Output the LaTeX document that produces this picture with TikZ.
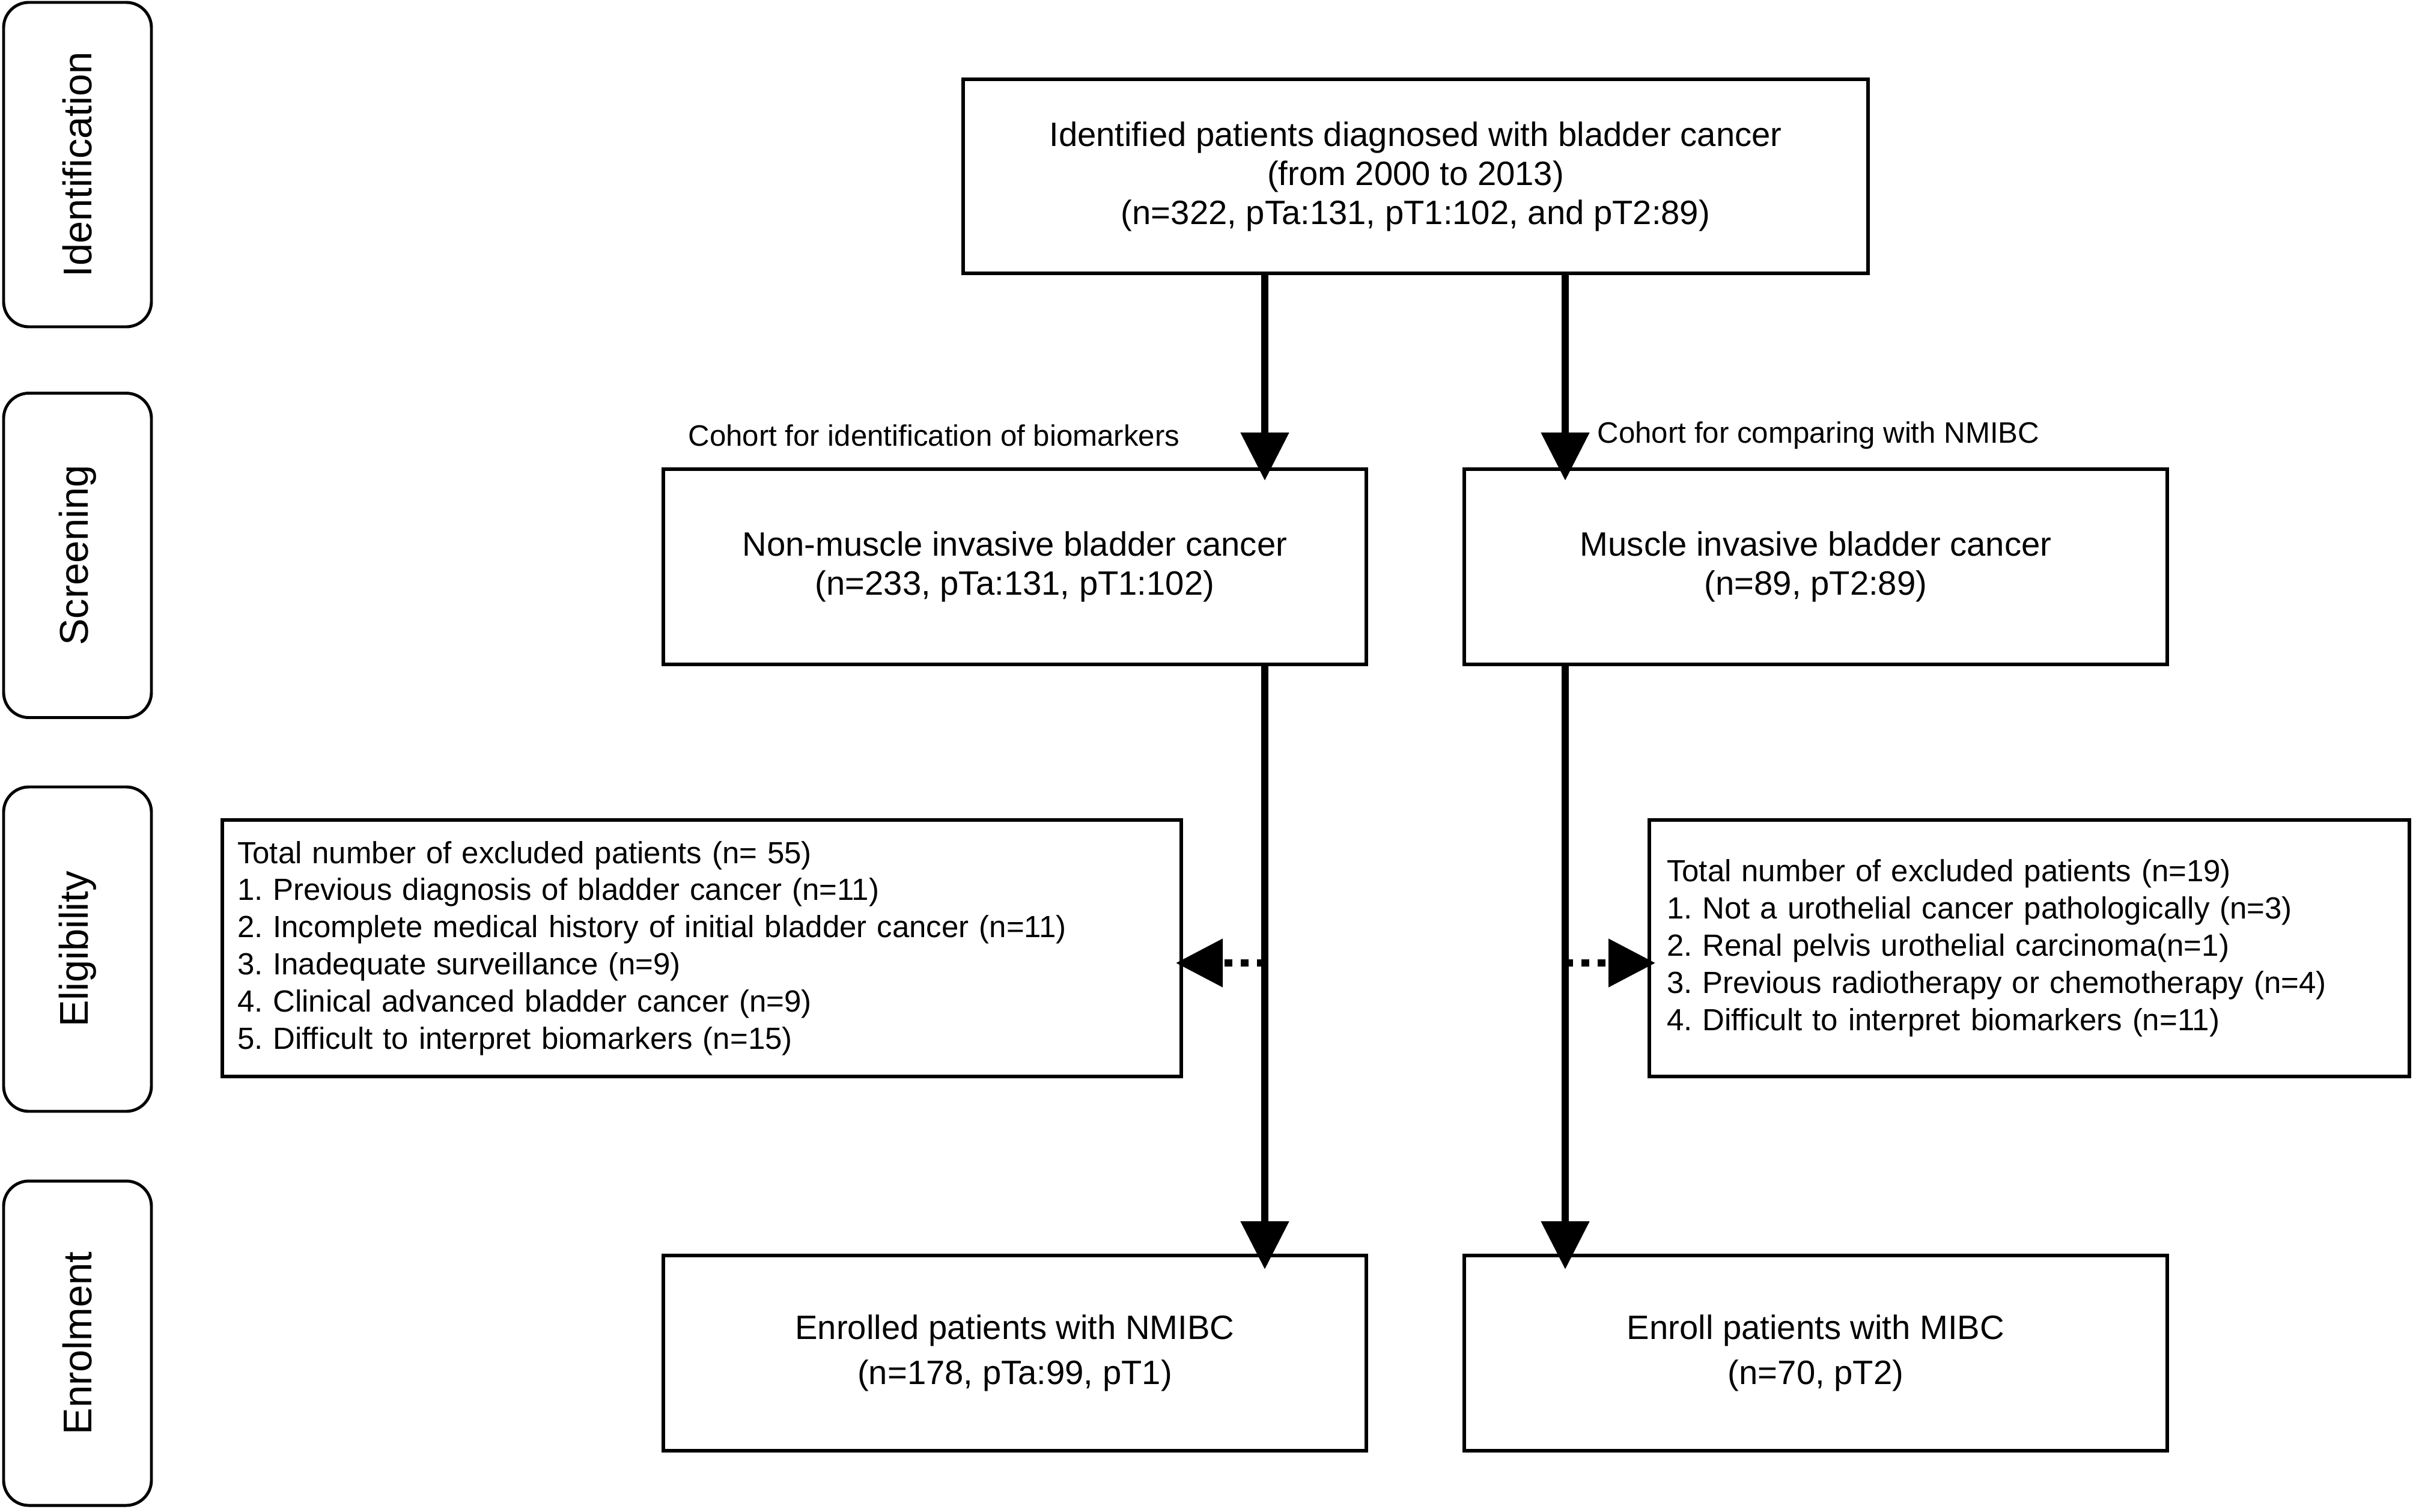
\documentclass[tikz,border=0pt]{standalone}
\usepackage{fontspec}
\setmainfont{Liberation Sans}
\usepackage{tikz}
\usetikzlibrary{arrows.meta,positioning}
\frenchspacing

\begin{document}
\begin{tikzpicture}[line join=miter,
  stage/.style={draw, line width=1.4pt, rounded corners=0.42cm, rotate=90, minimum width=5.40cm, minimum height=2.46cm, inner sep=0pt, font=\fontsize{19pt}{22pt}\selectfont},
  box/.style={draw, line width=1.7pt, minimum width=11.70cm, minimum height=3.25cm, align=center, font=\fontsize{16pt}{18.5pt}\selectfont},
  exbox/.style={draw, line width=1.7pt, minimum height=4.27cm, align=left, inner xsep=0.25cm, font=\fontsize{14.5pt}{17.6pt}\selectfont},
  cohort/.style={inner sep=0pt, font=\fontsize{14pt}{16pt}\selectfont},
  flow/.style={line width=3.4pt, -{Triangle[length=0.80cm,width=0.78cm]}},
  excl/.style={line width=3.4pt, dash pattern=on 0.13cm off 0.14cm, -{Triangle[length=0.78cm,width=0.78cm]}}]
  \useasboundingbox (0,0) rectangle (40.16,-25.16);

  \node[stage] (sIdent) at (1.290,-2.740) {Identification};
  \node[stage] (sScreen) at (1.290,-9.245) {Screening};
  \node[stage] (sElig) at (1.290,-15.800) {Eligibility};
  \node[stage] (sEnrol) at (1.290,-22.360) {Enrolment};

  \node[box, minimum width=15.06cm, minimum height=3.23cm] (total) at (23.560,-2.935)
    {Identified patients diagnosed with bladder cancer\\(from 2000 to 2013)\\(n=322, pTa:131, pT1:102, and pT2:89)};
  \node[box] (nmibc) at (16.890,-9.435) {Non-muscle invasive bladder cancer\\(n=233, pTa:131, pT1:102)};
  \node[box] (mibc) at (30.220,-9.435) {Muscle invasive bladder cancer\\(n=89, pT2:89)};
  \node[exbox, text width=15.46cm] (exNmibc) at (11.680,-15.785)
    {Total number of excluded patients (n= 55)\\
     1. Previous diagnosis of bladder cancer (n=11)\\
     2. Incomplete medical history of initial bladder cancer (n=11)\\
     3. Inadequate surveillance (n=9)\\
     4. Clinical advanced bladder cancer (n=9)\\
     5. Difficult to interpret biomarkers (n=15)};
  \node[exbox, inner xsep=0.29cm, text width=12.07cm] (exMibc) at (33.775,-15.785)
    {Total number of excluded patients (n=19)\\
     1. Not a urothelial cancer pathologically (n=3)\\
     2. Renal pelvis urothelial carcinoma(n=1)\\
     3. Previous radiotherapy or chemotherapy (n=4)\\
     4. Difficult to interpret biomarkers (n=11)};
  \node[box] (enNmibc) at (16.890,-22.525) {Enrolled patients with NMIBC\\[3pt](n=178, pTa:99, pT1)};
  \node[box] (enMibc) at (30.220,-22.525) {Enroll patients with MIBC\\[3pt](n=70, pT2)};

  \node[cohort, anchor=east] (cohortL) at (19.640,-7.250) {Cohort for identification of biomarkers};
  \node[cohort, anchor=west] (cohortR) at (26.580,-7.250) {Cohort for comparing with NMIBC};

  \coordinate (tipL) at (21.050,-8.000);
  \coordinate (tipR) at (26.050,-8.000);
  \coordinate (endL) at (21.050,-21.130);
  \coordinate (endR) at (26.050,-21.130);
  \coordinate (midL) at (21.050,-16.030);
  \coordinate (midR) at (26.050,-16.030);
  \coordinate (exTipL) at (19.570,-16.030);
  \coordinate (exTipR) at (27.550,-16.030);

  \draw[flow] (total.south -| tipL) -- (tipL);
  \draw[flow] (total.south -| tipR) -- (tipR);
  \draw[flow] (nmibc.south -| endL) -- (endL);
  \draw[flow] (mibc.south -| endR) -- (endR);
  \draw[excl] (midL) -- (exTipL);
  \draw[excl] (midR) -- (exTipR);
\end{tikzpicture}
\end{document}
